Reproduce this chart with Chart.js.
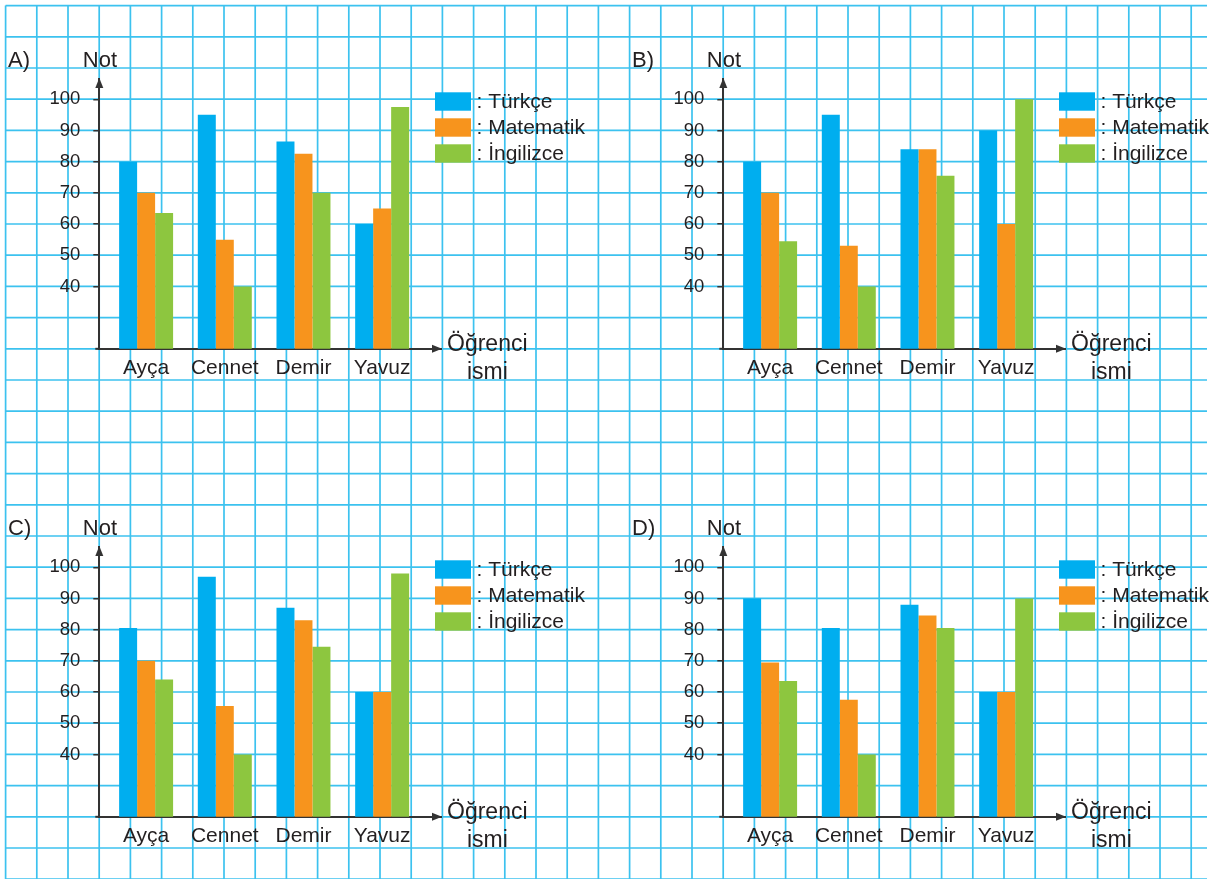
<!DOCTYPE html>
<html lang="tr">
<head>
<meta charset="utf-8">
<title>Öğrenci notları</title>
<script src="https://cdn.jsdelivr.net/npm/chart.js@4.4.1/dist/chart.umd.min.js"></script>
<style>
    html, body { margin: 0; padding: 0; background: #fff; }
    body { width: 1218px; height: 879px; position: relative; overflow: hidden; }
    #paper { position: absolute; left: 0; top: 0; }
    .panel { position: absolute; width: 620px; height: 460px; }
</style>
</head>
<body>
<canvas id="paper" width="1218" height="879"></canvas>
<div class="panel" style="left:0;top:0"><canvas id="chart-a" width="620" height="460"></canvas></div>
<div class="panel" style="left:624px;top:0"><canvas id="chart-b" width="620" height="460"></canvas></div>
<div class="panel" style="left:0;top:468px"><canvas id="chart-c" width="620" height="460"></canvas></div>
<div class="panel" style="left:624px;top:468px"><canvas id="chart-d" width="620" height="460"></canvas></div>
<script>
// Data
const students = ['Ayça', 'Cennet', 'Demir', 'Yavuz'];
const subjects = ['Türkçe', 'Matematik', 'İngilizce'];
const subjectColors = ['#00aeef', '#f7941d', '#8dc63f'];
const yTicks = [40, 50, 60, 70, 80, 90, 100];

const turkceA = [80, 95, 86.5, 60];
const matematikA = [70, 55, 82.5, 65];
const ingilizceA = [63.5, 40, 70, 97.5];

const turkceB = [80, 95, 84, 90];
const matematikB = [70, 53, 84, 60];
const ingilizceB = [54.5, 40, 75.5, 100];

const turkceC = [80.5, 97, 87, 60];
const matematikC = [70, 55.5, 83, 60];
const ingilizceC = [64, 40, 74.5, 98];

const turkceD = [90, 80.5, 88, 60];
const matematikD = [69.5, 57.5, 84.5, 60];
const ingilizceD = [63.5, 40, 80.5, 90];

const panels = [
    { id: 'chart-a', letter: 'A)', series: [turkceA, matematikA, ingilizceA] },
    { id: 'chart-b', letter: 'B)', series: [turkceB, matematikB, ingilizceB] },
    { id: 'chart-c', letter: 'C)', series: [turkceC, matematikC, ingilizceC] },
    { id: 'chart-d', letter: 'D)', series: [turkceD, matematikD, ingilizceD] }
];

const fontFamily = '"Liberation Sans", Arial, sans-serif';
const textColor = '#231f20';
const axisColor = '#333333';

// Narrow face for the tick numbers if the system has one
function pickTickFamily() {
    const ctx = document.createElement('canvas').getContext('2d');
    ctx.font = '40px monospace';
    const base = ctx.measureText('100 Not').width;
    ctx.font = '40px "Liberation Sans Narrow", monospace';
    if (ctx.measureText('100 Not').width !== base) return '"Liberation Sans Narrow", ' + fontFamily;
    return fontFamily;
}
const tickFamily = pickTickFamily();

// Grid paper background
function drawPaper() {
    const canvas = document.getElementById('paper');
    const ctx = canvas.getContext('2d');
    const step = 31.2, x0 = 5.6, y0 = 5.6;
    ctx.strokeStyle = '#3cc2ef';
    ctx.lineWidth = 1.7;
    for (let i = 0; x0 + i * step < 1200; i++) {
        const x = x0 + i * step;
        ctx.beginPath();
        ctx.moveTo(x, y0);
        ctx.lineTo(x, 879);
        ctx.stroke();
    }
    for (let j = 0; y0 + j * step < 882; j++) {
        const y = y0 + j * step;
        ctx.beginPath();
        ctx.moveTo(x0, y);
        ctx.lineTo(1207, y);
        ctx.stroke();
    }
}

// Arrows, titles and legend
const paperDecor = {
    id: 'paperDecor',
    afterDraw(chart, args, opts) {
        const ctx = chart.ctx;
        const a = chart.chartArea;
        ctx.save();
        // x axis sticks out a little left of the y axis
        ctx.strokeStyle = axisColor;
        ctx.lineWidth = 2;
        ctx.beginPath();
        ctx.moveTo(a.left - 4, a.bottom);
        ctx.lineTo(a.left, a.bottom);
        ctx.stroke();

        ctx.fillStyle = axisColor;
        ctx.beginPath();
        ctx.moveTo(a.left, a.top - 1);
        ctx.lineTo(a.left - 4, a.top + 9);
        ctx.lineTo(a.left + 4, a.top + 9);
        ctx.closePath();
        ctx.fill();
        ctx.beginPath();
        ctx.moveTo(a.right + 1, a.bottom);
        ctx.lineTo(a.right - 9, a.bottom - 4);
        ctx.lineTo(a.right - 9, a.bottom + 4);
        ctx.closePath();
        ctx.fill();

        ctx.fillStyle = textColor;
        ctx.textBaseline = 'alphabetic';
        ctx.textAlign = 'left';
        ctx.font = '22px ' + fontFamily;
        ctx.fillText(opts.letter, 8, 67);
        ctx.fillText('Not', a.left - 16.5, 67);
        ctx.font = '23px ' + fontFamily;
        ctx.fillText('Öğrenci', a.right + 6, a.bottom + 2);
        ctx.fillText('ismi', a.right + 26, a.bottom + 30);

        ctx.font = '21px ' + fontFamily;
        chart.data.datasets.forEach((ds, i) => {
            ctx.fillStyle = ds.backgroundColor;
            ctx.fillRect(435, 92.3 + 26 * i, 36, 18.4);
            ctx.fillStyle = textColor;
            ctx.fillText(': ' + ds.label, 476.5, 108.3 + 26 * i);
        });
        ctx.restore();
    }
};

function buildChart(panel) {
    const datasets = panel.series.map((values, i) => ({
        label: subjects[i],
        data: values.map((v, j) => ({ x: j, y: v })),
        backgroundColor: subjectColors[i],
        borderWidth: 0,
        categoryPercentage: 0.686,
        barPercentage: 1
    }));

    return new Chart(document.getElementById(panel.id), {
        type: 'bar',
        data: { datasets: datasets },
        options: {
            responsive: false,
            animation: false,
            devicePixelRatio: 1,
            layout: { padding: { left: 40, top: 79, right: 179, bottom: 0 } },
            plugins: {
                legend: { display: false },
                tooltip: { enabled: false },
                paperDecor: { letter: panel.letter }
            },
            scales: {
                x: {
                    type: 'linear',
                    offset: false,
                    min: -0.595,
                    max: 3.748,
                    afterBuildTicks: s => { s.ticks = students.map((_, i) => ({ value: i })); },
                    afterFit: s => { s.height = 111.2; },
                    grid: { display: false, drawTicks: false, offset: false },
                    border: { display: true, color: axisColor, width: 2 },
                    ticks: {
                        callback: v => students[v],
                        padding: 7,
                        autoSkip: false,
                        maxRotation: 0,
                        color: textColor,
                        font: { family: fontFamily, size: 21 }
                    }
                },
                y: {
                    min: 20,
                    max: 106.5,
                    afterBuildTicks: s => { s.ticks = yTicks.map(v => ({ value: v })); },
                    afterFit: s => { s.width = 59.3; },
                    grid: { drawOnChartArea: false, drawTicks: true, tickLength: 6, color: axisColor, lineWidth: 1.5 },
                    border: { display: true, color: axisColor, width: 2 },
                    ticks: {
                        padding: 13,
                        color: textColor,
                        font: { family: tickFamily, size: 18.5 }
                    }
                }
            }
        },
        plugins: [paperDecor]
    });
}

drawPaper();
panels.forEach(buildChart);
</script>
</body>
</html>
